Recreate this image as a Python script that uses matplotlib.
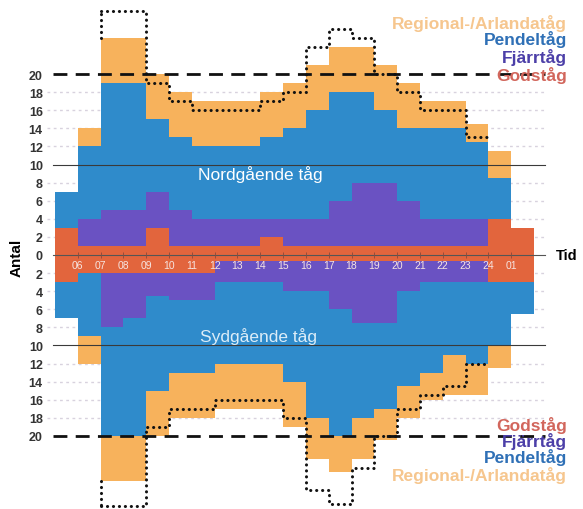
import numpy as np
import matplotlib.pyplot as plt

plt.rcParams['font.family'] = ['Liberation Sans', 'DejaVu Sans']

# timmar (kolumnerna börjar 05 och slutar 01-02)
first_hour = 5
hour_labels = ['06', '07', '08', '09', '10', '11', '12', '13', '14', '15',
               '16', '17', '18', '19', '20', '21', '22', '23', '24', '01']

# nordgående tåg per timme
gods_n = [3, 1, 1, 1, 3, 1, 1, 1, 1, 2, 1, 1, 1, 1, 1, 1, 1, 1, 1, 4, 3]
fjarr_n = [0, 3, 4, 4, 4, 4, 3, 3, 3, 2, 3, 3, 5, 7, 7, 5, 3, 3, 3, 0, 0]
pendel_n = [4, 8, 14, 14, 8, 8, 8, 8, 8, 9, 10, 12, 12, 10, 8, 8, 10, 10, 8.5, 4.5, 0]
regional_n = [0, 2, 5, 5, 5, 5, 5, 5, 5, 5, 5, 5, 5, 5, 5, 5, 3, 3, 2, 3, 0]
kapacitet_n = [np.nan, np.nan, 27, 27, 19, 17, 16, 16, 16, 17, 18, 23, 25, 24,
               20, 18, 16, 16, 13, np.nan, np.nan]

# sydgående tåg per timme
gods_s = [3, 2, 2, 2, 2, 2, 2, .7, .7, .7, .7, .7, .7, .7, .7, .7, .7, .7, .7, 3, 3]
fjarr_s = [0, 0, 6, 5, 2.5, 3, 3, 2.3, 2.3, 2.3, 3.3, 3.3, 5.3, 6.8, 6.8, 3.3,
           2.3, 2.3, 2.3, 0, 0]
pendel_s = [4, 7, 12, 13, 10.5, 8, 8, 9, 9, 9, 10, 14, 14, 10.5, 9.5, 10.5, 10, 8, 9, 7, 3.5]
regional_s = [0, 3, 5, 5, 5, 5, 5, 5, 5, 5, 5, 4.5, 4, 4.5, 3.5, 3.5, 3, 4.5, 3.5, 2.5, 0]
kapacitet_s = [np.nan, np.nan, 27.7, 27.7, 19, 17, 17, 16, 16, 16, 18, 26, 27.5,
               23.5, 20, 17, 15.5, 14.5, 12, np.nan, np.nan]

names = ['Godståg', 'Fjärrtåg', 'Pendeltåg', 'Regional-/Arlandatåg']
colors = ['#e2653d', '#6a52c2', '#2f8bcb', '#f7b25c']
text_colors = ['#d2665c', '#4c3fa8', '#2f70b6', '#f6c68e']

edges = np.arange(len(gods_n) + 1) + first_hour
dots = (0, (0.05, 1.9))

fig = plt.figure(figsize=(5.83, 5.10), dpi=100)
ax = fig.add_axes([47 / 583, 0, 503 / 583, 1])
ax.set_xlim(4.649, 4.649 + 503 / 22.81)
ax.set_ylim(-28.07, 28.29)


def draw_side(layers, capacity, sign):
    bottom = np.zeros(len(edges) - 1)
    for vals, col in zip(layers, colors):
        top = bottom + np.array(vals)
        ax.stairs(sign * top, edges, baseline=sign * bottom, fill=True,
                  color=col, lw=0, zorder=2)
        bottom = top
    cap = np.array(capacity)
    ok = np.where(~np.isnan(cap))[0]
    i0, i1 = ok[0], ok[-1]
    ax.stairs(sign * cap[i0:i1 + 1], edges[i0:i1 + 2], baseline=None,
              color='#111111', lw=2.2, linestyle=dots, capstyle='round',
              zorder=5)
    ax.plot([edges[i0], edges[i0]], [sign * bottom[i0], sign * cap[i0]],
            color='#111111', lw=2.2, linestyle=dots,
            dash_capstyle='round', zorder=5)


draw_side([gods_n, fjarr_n, pendel_n, regional_n], kapacitet_n, 1)
draw_side([gods_s, fjarr_s, pendel_s, regional_s], kapacitet_s, -1)

# stödlinjer
for v in [2, 4, 6, 8, 12, 14, 16, 18]:
    for s in (1, -1):
        ax.axhline(s * v, xmin=0, xmax=0.99, color='#d8d2de', lw=1,
                   linestyle=(0, (2, 2.5)), zorder=1)
for s in (1, -1):
    ax.axhline(s * 10, xmin=0.012, xmax=0.99, color='#3a3a3a', lw=0.8, zorder=3)
    ax.axhline(s * 20, xmin=0.012, xmax=0.99, color='#111111', lw=2,
               dashes=(5, 3), zorder=4)
ax.axhline(0, xmin=0.012, xmax=0.99, color='#555555', lw=0.8, zorder=3)
ax.vlines(edges[1:-1], -0.3, 0.3, color='#8a4a3a', lw=0.6, zorder=3)

for x, lab in zip(edges[1:-1], hour_labels):
    ax.text(x, -1.15, lab, ha='center', va='center', fontsize=7.5,
            color='#f6e4e0', zorder=6)

ax.text(14.0, 9.0, 'Nordgående tåg', ha='center', va='center',
        fontsize=12.5, color='white', zorder=6)
ax.text(13.9, -8.9, 'Sydgående tåg', ha='center', va='center',
        fontsize=12.5, color='#dcedf8', zorder=6)
ax.text(1.012, 0, 'Tid', transform=ax.get_yaxis_transform(), ha='left',
        va='center', fontsize=10.5, fontweight='bold')

ticks = np.arange(-20, 21, 2)
ax.set_yticks(ticks)
ax.set_yticklabels([str(abs(t)) for t in ticks])
ax.tick_params(axis='y', length=0, pad=3, labelsize=9, labelcolor='#333333')
for lbl in ax.get_yticklabels():
    lbl.set_fontweight('bold')
ax.set_xticks([])
for sp in ax.spines.values():
    sp.set_visible(False)

fig.text(17 / 583, 1 - 258 / 510, 'Antal', rotation=90, ha='center',
         va='center', fontsize=11, fontweight='bold')

# förklaringar uppe och nere till höger
top_y = [75, 57, 40, 23]
bot_y = [425, 442, 458, 476]
for name, tc, yt, yb in zip(names, text_colors, top_y, bot_y):
    fig.text(567 / 583, 1 - yt / 510, name, ha='right', va='center',
             fontsize=12.5, fontweight='bold', color=tc)
    fig.text(567 / 583, 1 - yb / 510, name, ha='right', va='center',
             fontsize=12.5, fontweight='bold', color=tc)

fig.savefig('out.png', dpi=100)
